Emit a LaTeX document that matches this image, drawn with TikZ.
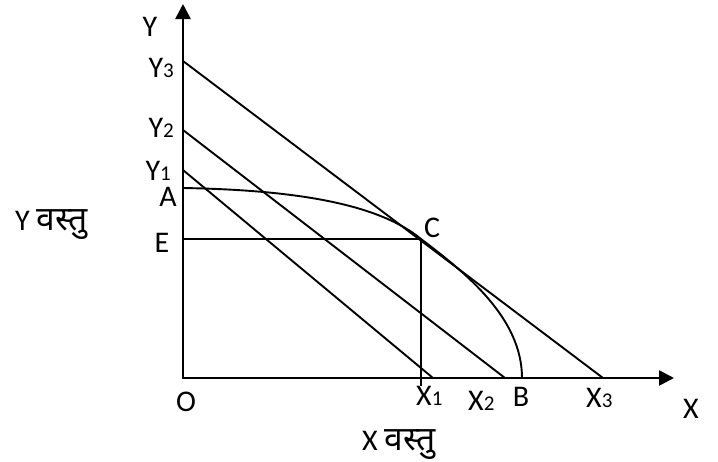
\documentclass[tikz,border=0pt]{standalone}
\usepackage{fontspec}
\setmainfont{Carlito}
\newfontfamily\deva[Script=Devanagari,Scale=1.12]{Noto Sans}
\usetikzlibrary{arrows.meta}
\newcommand{\sbs}[1]{{\fontsize{21}{21}\selectfont #1}}
\tikzset{
  axisline/.style={line width=2.6pt, line join=miter,
    {Triangle[length=15pt,width=15pt]}-{Triangle[length=15pt,width=15pt]}},
  thinline/.style={line width=1.9pt},
  lbl/.style={inner sep=0pt, text height=19pt, text depth=0pt,
    font=\fontsize{30}{30}\selectfont}
}
\begin{document}
\begin{tikzpicture}[x=1pt,y=-1pt]
\useasboundingbox (0,0) rectangle (718,461);
\fill[white] (0,0) rectangle (718,461);
% points
\coordinate (Ytip) at (183,4);
\coordinate (O) at (183,378);
\coordinate (Xtip) at (674,378);
\coordinate (Y3) at (183,61);
\coordinate (Y2) at (183,130);
\coordinate (Y1) at (183,170);
\coordinate (X3) at (603,378);
\coordinate (X2) at (505,378);
\coordinate (X1) at (433,378);
\coordinate (A) at (183,188);
\coordinate (B) at (522,378);
\coordinate (C) at (421,239);
\coordinate (E) at (183,239);
\coordinate (Cfoot) at (421,386);
% axes
\draw[axisline] (Ytip) -- (O) -- (Xtip);
% budget lines
\draw[thinline] (Y3) -- (X3);
\draw[thinline] (Y2) -- (X2);
\draw[thinline] (Y1) -- (X1);
% production possibility curve
\draw[thinline] (A) .. controls (300,190) and (380,205) .. (C)
  .. controls (466,273) and (522,318) .. (B);
% projections
\draw[thinline] (E) -- (C) -- (Cfoot);
% labels
\node[lbl, anchor=base] (lY) at (150,36) {Y};
\node[lbl, anchor=base east] (lY3) at (174,77) {Y\sbs{3}};
\node[lbl, anchor=base east] (lY2) at (174,137) {Y\sbs{2}};
\node[lbl, anchor=base east] (lY1) at (171,180) {Y\sbs{1}};
\node[lbl, anchor=base] (lA) at (168,206) {A};
\node[lbl, anchor=base] (lE) at (162,252) {E};
\node[lbl, anchor=base] (lC) at (432,237) {C};
\node[lbl, anchor=base] (lO) at (186,411) {O};
\node[lbl, anchor=base west] (lX1) at (416,405) {X\sbs{1}};
\node[lbl, anchor=base west] (lX2) at (468,410) {X\sbs{2}};
\node[lbl, anchor=base] (lB) at (521,406) {B};
\node[lbl, anchor=base west] (lX3) at (586,407) {X\sbs{3}};
\node[lbl, anchor=base] (lX) at (691,418) {X};
\node[lbl, anchor=base west] (lXg) at (362,450) {X {\deva वस्तु}};
\node[lbl, anchor=base west] (lYg) at (15,230) {Y {\deva वस्तु}};
\end{tikzpicture}
\end{document}
